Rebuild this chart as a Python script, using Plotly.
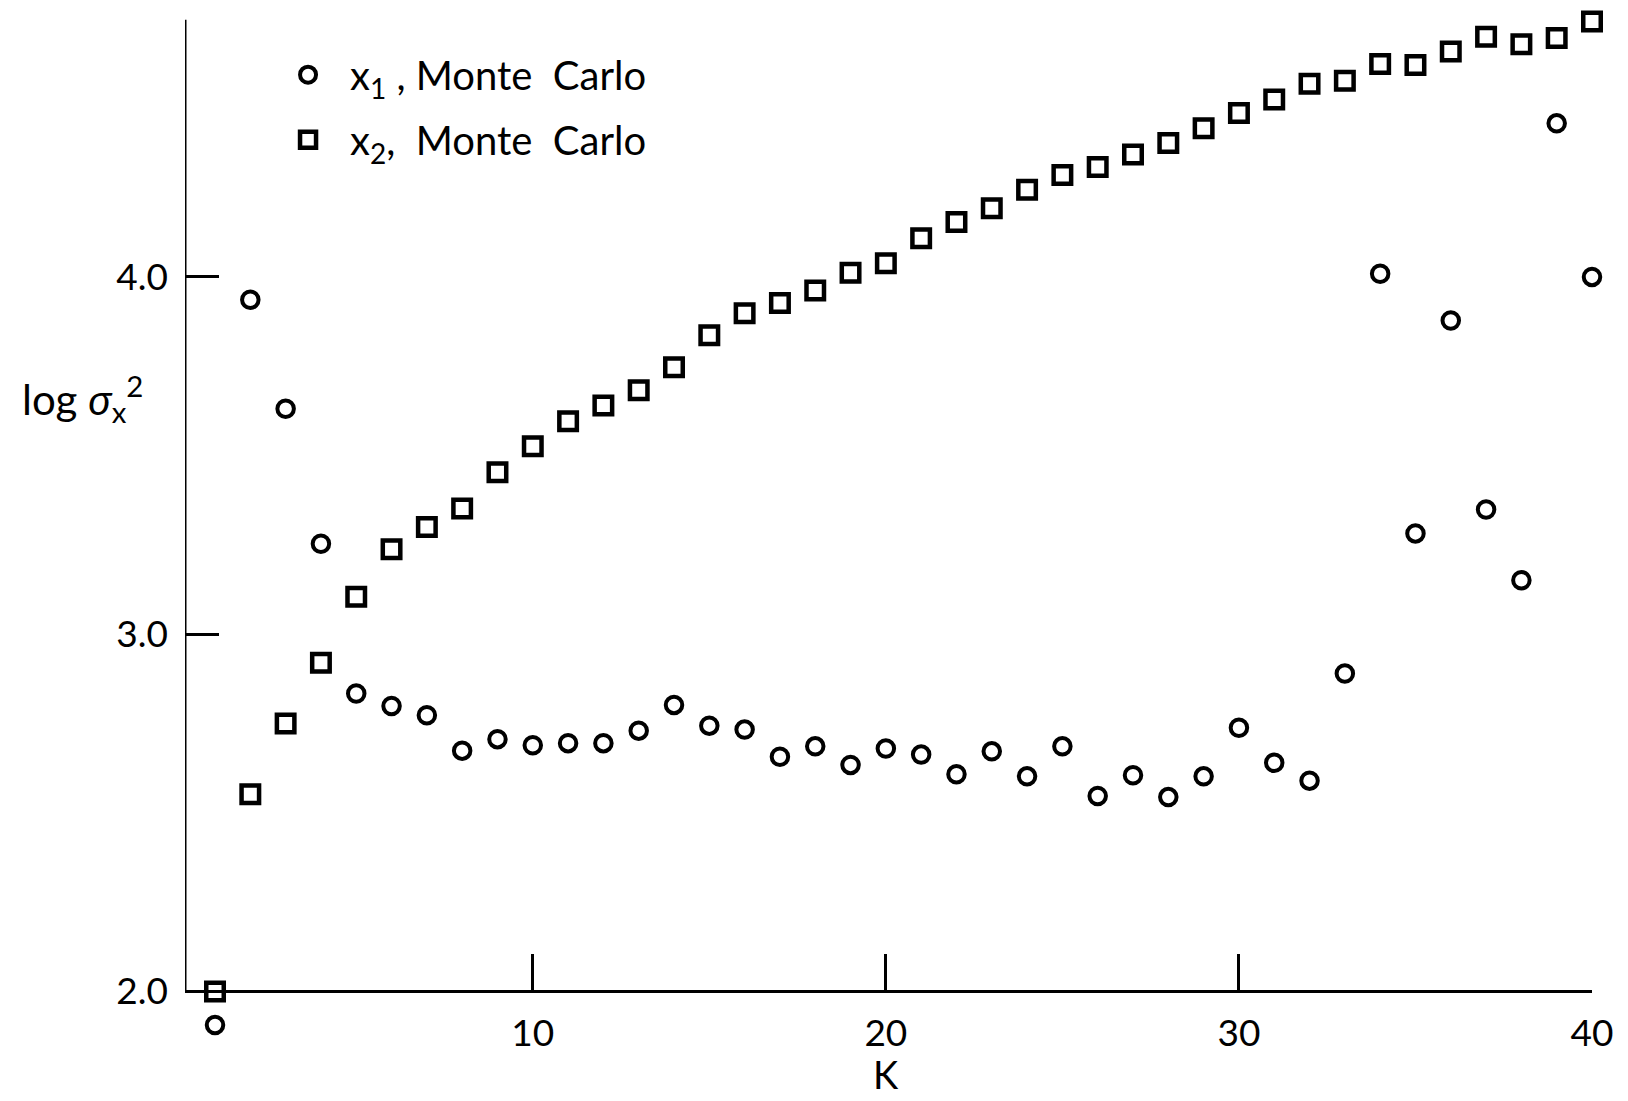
import plotly.graph_objects as go

# Iteration index K
k_values = list(range(1, 41))

# log variance of x1 from the Monte Carlo runs
log_var_x1 = [1.906, 3.936, 3.631, 3.253, 2.834, 2.799, 2.773, 2.674, 2.706, 2.689,
              2.695, 2.695, 2.730, 2.802, 2.744, 2.733, 2.657, 2.686, 2.634, 2.680,
              2.663, 2.608, 2.672, 2.602, 2.686, 2.547, 2.605, 2.544, 2.602, 2.738,
              2.640, 2.590, 2.890, 4.009, 3.282, 3.878, 3.349, 3.151, 4.430, 4.000]

# log variance of x2 from the Monte Carlo runs
log_var_x2 = [2.000, 2.552, 2.750, 2.920, 3.105, 3.238, 3.300, 3.352, 3.453, 3.526,
              3.596, 3.640, 3.683, 3.747, 3.837, 3.898, 3.927, 3.962, 4.012, 4.038,
              4.108, 4.154, 4.192, 4.244, 4.285, 4.308, 4.343, 4.375, 4.416, 4.459,
              4.497, 4.541, 4.549, 4.596, 4.593, 4.631, 4.672, 4.651, 4.669, 4.715]

x_ticks = [10, 20, 30, 40]
y_ticks = [2.0, 3.0, 4.0]
y_tick_text = ["2.0", "3.0", "4.0"]

FONT = "Lato, 'DejaVu Sans', sans-serif"
INK = "black"

# data window is a little larger than the drawn frame so edge points stay visible
X_RANGE = [0.15, 40]
Y_RANGE = [1.85, 4.75]
Y_BASE = 2.0      # level of the K axis
Y_TOP = 4.72      # top end of the vertical axis line

fig = go.Figure()

fig.add_trace(go.Scatter(
    x=k_values, y=log_var_x1, mode="markers",
    name="x<sub>1</sub> , Monte  Carlo", legendgroup="a",
    marker=dict(symbol="circle-open", size=16.5, color=INK, line=dict(width=4, color=INK)),
    cliponaxis=False,
))
fig.add_trace(go.Scatter(
    x=k_values, y=log_var_x2, mode="markers",
    name="x<sub>2</sub>,  Monte  Carlo", legendgroup="b",
    marker=dict(symbol="square-open", size=17.5, color=INK, line=dict(width=4.5, color=INK)),
    cliponaxis=False,
))

base_pos = (Y_BASE - Y_RANGE[0]) / (Y_RANGE[1] - Y_RANGE[0])

fig.update_layout(
    width=1628, height=1101,
    margin=dict(l=185, r=36, t=9, b=56),
    paper_bgcolor="white", plot_bgcolor="white",
    font=dict(family=FONT, size=34, color=INK),
    showlegend=True,
    legend=dict(x=0.0576, y=0.968, xanchor="left", yanchor="top",
                bgcolor="rgba(0,0,0,0)", font=dict(size=40, family=FONT),
                tracegroupgap=10, itemsizing="trace", itemwidth=74),
    xaxis=dict(
        range=X_RANGE, showgrid=False, zeroline=False,
        anchor="free", position=base_pos,
        showline=True, linecolor=INK, linewidth=3,
        ticks="inside", ticklen=36, tickwidth=3, tickcolor=INK,
        tickvals=x_ticks, ticktext=[str(v) for v in x_ticks],
        tickfont=dict(size=37), ticklabelstandoff=8,
    ),
    yaxis=dict(
        range=Y_RANGE, showgrid=False, zeroline=False, showline=False,
        ticks="inside", ticklen=34, tickwidth=3, tickcolor=INK,
        tickvals=y_ticks, ticktext=y_tick_text,
        tickfont=dict(size=37), ticklabelstandoff=16,
    ),
    shapes=[dict(type="line", xref="x", yref="y", x0=X_RANGE[0], x1=X_RANGE[0],
                 y0=Y_BASE, y1=Y_TOP, line=dict(color=INK, width=3))],
)

# axis titles
fig.add_annotation(x=20, y=Y_BASE, xref="x", yref="y", text="K", showarrow=False,
                   yanchor="middle", yshift=-83, font=dict(size=38, family=FONT))
fig.add_annotation(x=0, y=3.66, xref="paper", yref="y",
                   text="log <i>σ</i><sub>x</sub><sup>2</sup>", showarrow=False,
                   xanchor="right", xshift=-40, font=dict(size=42, family=FONT))

fig.write_html("out.html")
